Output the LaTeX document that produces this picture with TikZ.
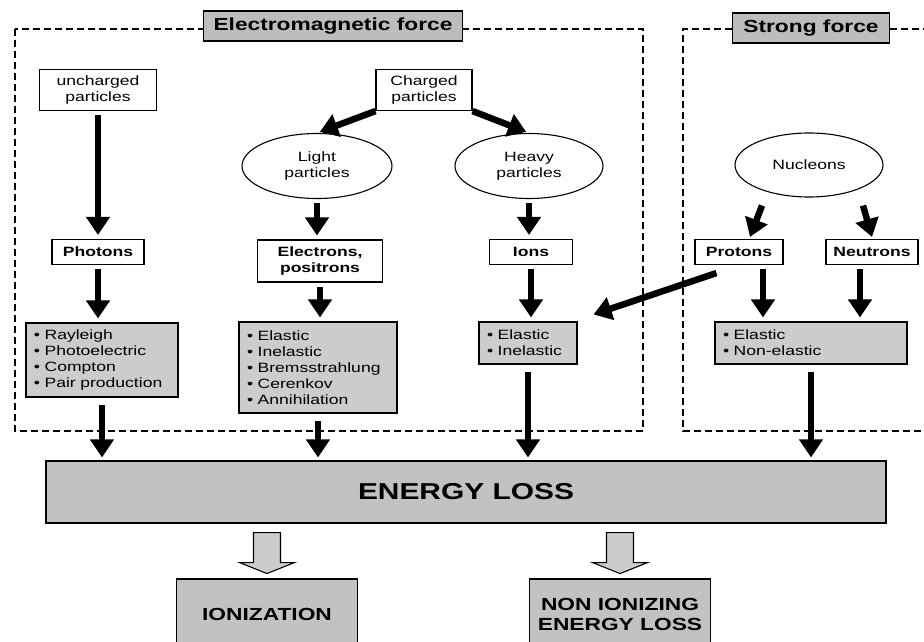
\documentclass[tikz,border=0pt]{standalone}
\usepackage{fontspec}
\setmainfont{Liberation Sans}[FakeStretch=1.3]
\usetikzlibrary{arrows.meta,shapes.geometric,calc}

\definecolor{boxgray}{gray}{0.80}
\definecolor{titlegray}{gray}{0.74}
\definecolor{lossgray}{gray}{0.76}

\begin{document}
\begin{tikzpicture}[x=1pt,y=-1pt,
	namebox/.style={draw,line width=1.1pt,fill=white,font=\fontsize{13.5}{16}\selectfont\bfseries,align=center,inner sep=2pt},
	plainbox/.style={draw,line width=1.1pt,fill=white,font=\fontsize{13.5}{16}\selectfont,align=center,inner sep=2pt},
	oval/.style={draw,line width=1.1pt,ellipse,font=\fontsize{13.5}{16}\selectfont,align=center,inner sep=0pt},
	listbox/.style={draw,line width=1.1pt,fill=boxgray,font=\fontsize{13.5}{16}\selectfont,align=left,inner xsep=8pt,inner ysep=0pt},
	forcebox/.style={draw,line width=1.1pt,fill=titlegray,font=\fontsize{17.5}{20}\selectfont\bfseries,minimum height=30pt},
	lossbox/.style={draw,line width=1.1pt,fill=lossgray,font=\fontsize{17.5}{20}\selectfont\bfseries,align=center},
	frame/.style={line width=1.6pt,dash pattern=on 7pt off 4pt},
	bigarrow/.style={-{Triangle[width=23pt,length=18pt]},line width=6.5pt,shorten <=4pt,shorten >=4pt},
	hollow/.style={draw,line width=1.1pt,fill=boxgray}]
	\clip (0,0) rectangle (924,642);
	
	\draw[frame] (15,29) rectangle (643,431);
	\draw[frame] (930,29) -- (683,29) -- (683,431) -- (930,431);
	
	\node[forcebox,minimum width=259pt] (em) at (333,26) {Electromagnetic force};
	\node[forcebox,minimum width=157pt] (strong) at (811,28) {Strong force};
	
	\node[plainbox,minimum width=117pt,minimum height=41pt] (unch) at (98,90) {uncharged\\particles};
	\node[plainbox,minimum width=96pt,minimum height=41pt] (charged) at (424,90) {Charged\\particles};
	\node[oval,minimum width=150pt,minimum height=65pt] (light) at (317,166) {Light\\particles};
	\node[oval,minimum width=148pt,minimum height=65pt] (heavy) at (529,166) {Heavy\\particles};
	\node[oval,minimum width=148pt,minimum height=64pt] (nucleons) at (809,165) {Nucleons};
	
	\node[namebox,minimum width=92pt,minimum height=25pt] (photons) at (98,252) {Photons};
	\node[namebox,minimum width=125pt,minimum height=42pt] (elec) at (320,261) {Electrons,\\positrons};
	\node[namebox,minimum width=83pt,minimum height=25pt] (ions) at (531,252) {Ions};
	\node[namebox,minimum width=88pt,minimum height=25pt] (protons) at (739,252) {Protons};
	\node[namebox,minimum width=92pt,minimum height=25pt] (neutrons) at (872,252) {Neutrons};
	
	\node[listbox,text width=136pt,minimum height=74pt] (photint) at (102,360)
		{\textbullet\ Rayleigh\\\textbullet\ Photoelectric\\\textbullet\ Compton\\\textbullet\ Pair production};
	\node[listbox,text width=142pt,minimum height=91pt] (elint) at (318,367.5)
		{\textbullet\ Elastic\\\textbullet\ Inelastic\\\textbullet\ Bremsstrahlung\\\textbullet\ Cerenkov\\\textbullet\ Annihilation};
	\node[listbox,text width=82pt,minimum height=42pt] (ionint) at (528,343) {\textbullet\ Elastic\\\textbullet\ Inelastic};
	\node[listbox,text width=176pt,minimum height=42pt] (nucint) at (811,343) {\textbullet\ Elastic\\\textbullet\ Non-elastic};
	
	\node[lossbox,minimum width=840pt,minimum height=62pt,font=\fontsize{23}{26}\selectfont\bfseries] (eloss) at (466,492) {ENERGY LOSS};
	\node[lossbox,minimum width=181pt,minimum height=71pt] (ioniz) at (267,614.5) {IONIZATION};
	\node[lossbox,minimum width=181pt,minimum height=71pt] (niel) at (620,614.5) {NON IONIZING\\ENERGY LOSS};
	
	\foreach \a/\b in {unch/photons, light/elec, heavy/ions, photons/photint, elec/elint, ions/ionint}
		\draw[bigarrow] (\a.south) -- (\a.south |- \b.north);
	\foreach \a in {photint, elint, ionint, nucint}
		\draw[bigarrow,shorten <=7pt,shorten >=3pt] (\a.south) -- (\a.south |- eloss.north);
	
	\draw[bigarrow,shorten <=0pt,shorten >=3pt] (charged.south west) -- (light.north);
	\draw[bigarrow,shorten <=0pt,shorten >=3pt] (charged.south east) -- (heavy.north);
	\draw[bigarrow,shorten <=0pt,shorten >=0pt] ($(nucleons.south)+(-47,8)$) -- ($(protons.north)+(11,-2)$);
	\draw[bigarrow,shorten <=0pt,shorten >=0pt] ($(nucleons.south)+(54,8)$) -- ($(neutrons.north)+(0,-2)$);
	\draw[bigarrow] ([xshift=24pt]protons.south) -- ([xshift=24pt]protons.south |- nucint.north);
	\draw[bigarrow] ([xshift=-12pt]neutrons.south) -- ([xshift=-12pt]neutrons.south |- nucint.north);
	\draw[bigarrow,shorten <=0pt,shorten >=0pt] ($(protons.south west)+(22,8)$) -- ($(ionint.north east)+(16,-7)$);
	
	\foreach \t in {ioniz, niel}
		\draw[hollow] ($(eloss.south -| \t.north)+(-13.5,9)$) -- ++(27,0) -- ++(0,30) -- ++(14,0)
			-- ++(-27.5,11) -- ++(-27.5,-11) -- ++(14,0) -- cycle;
	
\end{tikzpicture}
\end{document}
